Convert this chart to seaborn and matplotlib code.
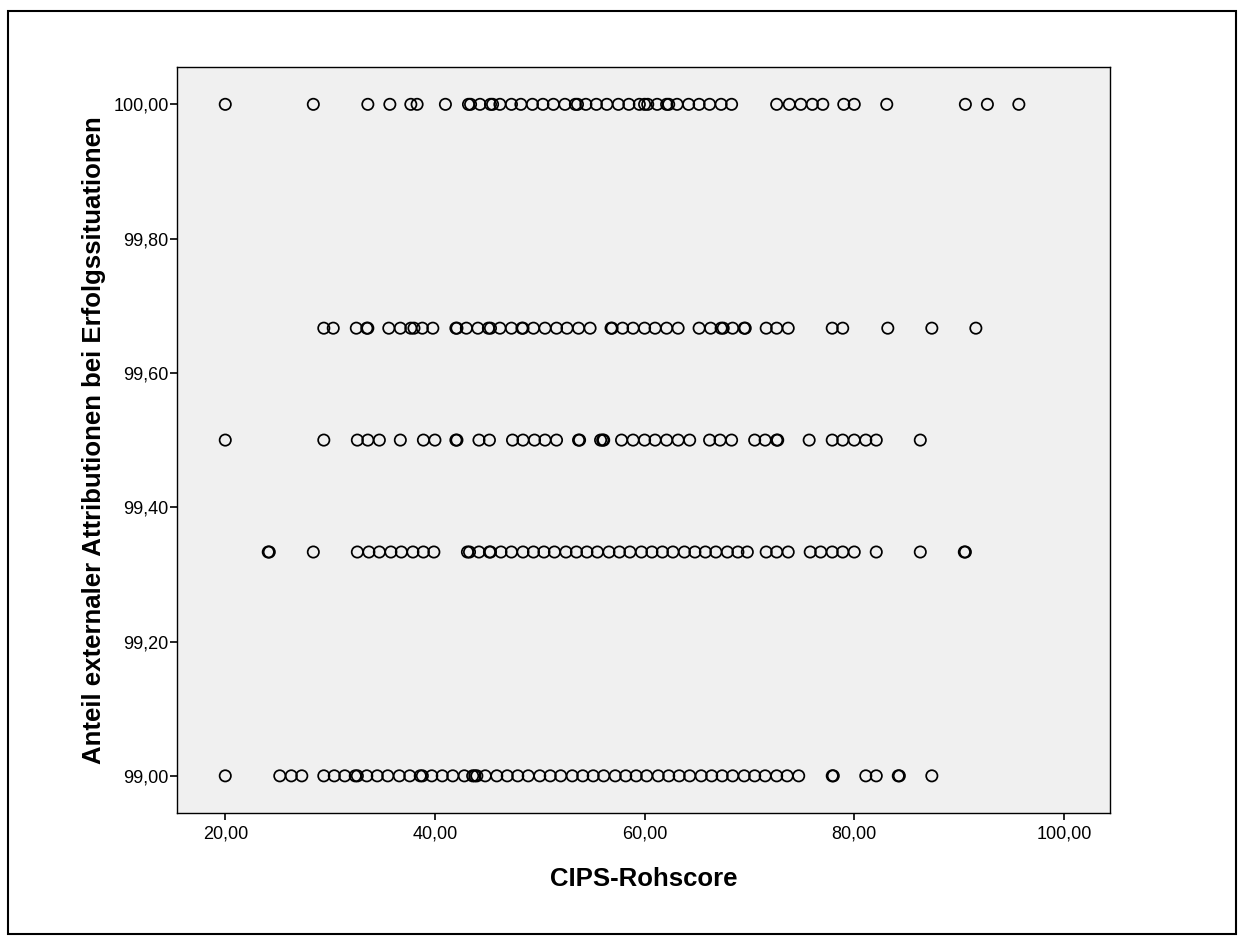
import pandas as pd
import seaborn as sns
import matplotlib.pyplot as plt
from matplotlib.patches import Rectangle

# CIPS raw scores, one list per y level
x_100 = [20.0, 28.4, 33.6, 35.7, 37.7, 38.3, 41.0,
         43.2, 43.4, 44.3, 45.3, 45.5, 46.2, 47.3, 48.2, 49.3, 50.3, 51.3, 52.4, 53.4,
         53.6, 54.4, 55.4, 56.4, 57.5, 58.5, 59.5, 60.0, 60.3, 61.2, 62.1, 62.3, 63.1,
         64.2, 65.2, 66.2, 67.3, 68.3,
         72.6, 73.8, 74.9, 76.0, 77.0, 79.0, 80.0, 83.1, 90.6, 92.7, 95.7]
x_9967 = [29.4, 30.3, 32.5, 33.5, 33.6, 35.6, 36.7, 37.7, 38.0, 38.8, 39.8,
          42.0, 42.1, 43.0, 44.1, 45.1, 45.3, 46.2, 47.3, 48.3, 48.4, 49.4, 50.5,
          51.6, 52.6, 53.7, 54.8, 56.8, 56.9, 57.9, 58.9, 60.0, 61.0, 62.1, 63.2,
          65.2, 66.3, 67.3, 67.5, 68.4, 69.5, 69.6, 71.6, 72.6, 73.7, 77.9, 78.9,
          83.2, 87.4, 91.6]
x_995 = [20.0, 29.4, 32.6, 33.6, 34.7, 36.7, 38.9, 40.0, 42.0, 42.1, 44.2, 45.2,
         47.4, 48.4, 49.5, 50.5, 51.6, 53.7, 53.8, 55.8, 56.0, 56.1, 57.8, 58.9,
         60.0, 61.0, 62.1, 63.2, 64.3, 66.2, 67.2, 68.3, 70.5, 71.5, 72.6, 72.7,
         75.7, 77.9, 78.9, 80.0, 81.1, 82.1, 86.3]
x_9933 = [24.1, 24.2, 28.4, 32.6, 33.7, 34.7, 35.8, 36.8, 37.9, 38.9, 39.9,
          43.1, 43.3, 44.2, 45.2, 45.3, 46.3, 47.3, 48.4, 49.4, 50.4, 51.4, 52.5,
          53.5, 54.5, 55.5, 56.6, 57.6, 58.6, 59.7, 60.7, 61.7, 62.7, 63.8, 64.8,
          65.8, 66.8, 67.9, 68.9, 69.8, 71.6, 72.6, 73.7, 75.8, 76.8, 77.9, 78.9,
          80.0, 82.1, 86.3, 90.5, 90.6]
x_990 = [20.0, 25.2, 26.3, 27.3,
         29.4, 30.4, 31.4, 32.4, 32.6, 33.5, 34.5, 35.5, 36.6, 37.6, 38.6, 38.8,
         39.7, 40.7, 41.7, 42.8, 43.6, 43.8, 44.0, 44.8, 45.9, 46.9, 47.9, 48.9,
         50.0, 51.0, 52.0, 53.1, 54.1, 55.1, 56.1, 57.2, 58.2, 59.2, 60.2, 61.3,
         62.3, 63.3, 64.3, 65.4, 66.4, 67.4, 68.4, 69.5, 70.5, 71.5, 72.6, 73.6,
         74.7, 77.9, 78.0, 81.1, 82.1, 84.2, 84.3, 87.4]

levels = [100.0, 99 + 2 / 3, 99.5, 99 + 1 / 3, 99.0]
rows = [x_100, x_9967, x_995, x_9933, x_990]

x_ticks = [20, 40, 60, 80, 100]
x_tick_labels = ['20,00', '40,00', '60,00', '80,00', '100,00']
y_ticks = [99.0, 99.2, 99.4, 99.6, 99.8, 100.0]
y_tick_labels = ['99,00', '99,20', '99,40', '99,60', '99,80', '100,00']

data = {'CIPS': [], 'Anteil': []}
for lev, xs in zip(levels, rows):
    data['CIPS'] += xs
    data['Anteil'] += [lev] * len(xs)
df = pd.DataFrame(data)

sns.set_style('ticks')
plt.rcParams['font.family'] = ['Liberation Sans', 'DejaVu Sans']

fig = plt.figure(figsize=(12.45, 9.44), dpi=100)
ax = fig.add_axes([0.1422, 0.139, 0.7494, 0.7896])
ax.set_facecolor('#f0f0f0')

sns.scatterplot(x='CIPS', y='Anteil', data=df, ax=ax, marker='o', s=66,
                facecolors='none', edgecolor='black', linewidth=1.25)

ax.set_xlim(15.4, 104.4)
ax.set_ylim(98.945, 100.055)
ax.set_xticks(x_ticks)
ax.set_xticklabels(x_tick_labels)
ax.set_yticks(y_ticks)
ax.set_yticklabels(y_tick_labels)
ax.tick_params(axis='both', labelsize=13, length=5, width=1.2, pad=1,
               color='black', labelcolor='black', direction='out')
ax.tick_params(axis='x', pad=4)
for sp in ax.spines.values():
    sp.set_visible(True)
    sp.set_color('black')
    sp.set_linewidth(1)

ax.set_xlabel('CIPS-Rohscore', fontsize=18.5, fontweight='bold', color='black',
              labelpad=18)
ax.set_ylabel('Anteil externaler Attributionen bei Erfolgssituationen',
              fontsize=18.5, fontweight='bold', color='black', labelpad=5)

# outer frame round the whole chart
fig.patches.append(Rectangle((0.0064, 0.0106), 0.9863, 0.978, transform=fig.transFigure,
                             fill=False, edgecolor='black', linewidth=1.5))

plt.savefig('out.png', dpi=100)
